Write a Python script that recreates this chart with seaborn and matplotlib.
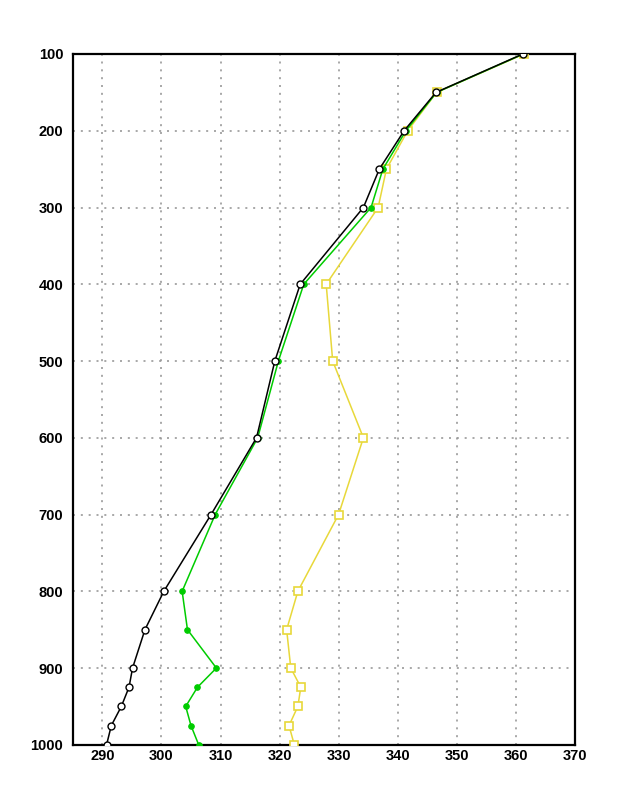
import matplotlib
matplotlib.use("Agg")
import matplotlib.pyplot as plt
import seaborn as sns
import pandas as pd

pressure = [100, 150, 200, 250, 300, 400, 500, 600, 700, 800, 850, 900, 925, 950, 975, 1000]
black_vals = [361.2, 346.5, 341.1, 336.9, 334.2, 323.5, 319.2, 316.1, 308.4, 300.4, 297.2, 295.1, 294.5, 293.2, 291.5, 290.7]
green_vals = [361.3, 346.6, 341.4, 337.5, 335.5, 324.1, 319.8, 316.3, 309.1, 303.5, 304.4, 309.3, 306.1, 304.1, 305.0, 306.3]
yellow_vals = [361.4, 346.6, 341.7, 338.1, 336.7, 327.9, 329.0, 334.2, 330.0, 323.1, 321.2, 321.9, 323.6, 323.1, 321.6, 322.5]

x_ticks = [290, 300, 310, 320, 330, 340, 350, 360, 370]
y_ticks = [100, 200, 300, 400, 500, 600, 700, 800, 900, 1000]

sns.set_style("white")
plt.rcParams['font.family'] = ['Liberation Sans', 'DejaVu Sans']
plt.rcParams['text.color'] = 'black'
plt.rcParams['xtick.color'] = 'black'
plt.rcParams['ytick.color'] = 'black'

fig = plt.figure(figsize=(6.18, 8.0), dpi=100)
ax = fig.add_axes([0.118, 0.069, 0.812, 0.8635])

df_black = pd.DataFrame({"T": black_vals, "p": pressure})
df_green = pd.DataFrame({"T": green_vals, "p": pressure})
df_yellow = pd.DataFrame({"T": yellow_vals, "p": pressure})

sns.lineplot(data=df_yellow, x="T", y="p", sort=False, estimator=None, ax=ax,
             color="#e8d83a", linewidth=1.1, marker="s", markersize=5.5,
             markerfacecolor="white", markeredgecolor="#e8d83a", markeredgewidth=1.2, zorder=3)
sns.lineplot(data=df_green, x="T", y="p", sort=False, estimator=None, ax=ax,
             color="#00cc00", linewidth=1.1, marker="o", markersize=4,
             markerfacecolor="#00cc00", markeredgecolor="#00cc00", zorder=4)
sns.lineplot(data=df_black, x="T", y="p", sort=False, estimator=None, ax=ax,
             color="black", linewidth=1.1, marker="o", markersize=5,
             markerfacecolor="white", markeredgecolor="black", markeredgewidth=1.0, zorder=5)

ax.set_xlim(285, 370)
ax.set_ylim(1000, 100)
ax.set_xticks(x_ticks)
ax.set_yticks(y_ticks)
ax.set_xticklabels([str(v) for v in x_ticks], fontweight="bold", fontsize=10.5)
ax.set_yticklabels([str(v) for v in y_ticks], fontweight="bold", fontsize=10.5)
ax.set_xlabel("")
ax.set_ylabel("")

ax.grid(True, color="#999999", linestyle=(0, (1.2, 3.5)), linewidth=1.2, zorder=1)
ax.set_axisbelow(True)

for side in ["left", "right", "top", "bottom"]:
    ax.spines[side].set_color("black")
    ax.spines[side].set_linewidth(1.6)

ax.tick_params(axis="y", direction="out", length=5, width=1.2, color="black", pad=2)
ax.tick_params(axis="x", direction="in", length=4, width=1.2, color="black", pad=3)

fig.savefig("out.png", dpi=100)
